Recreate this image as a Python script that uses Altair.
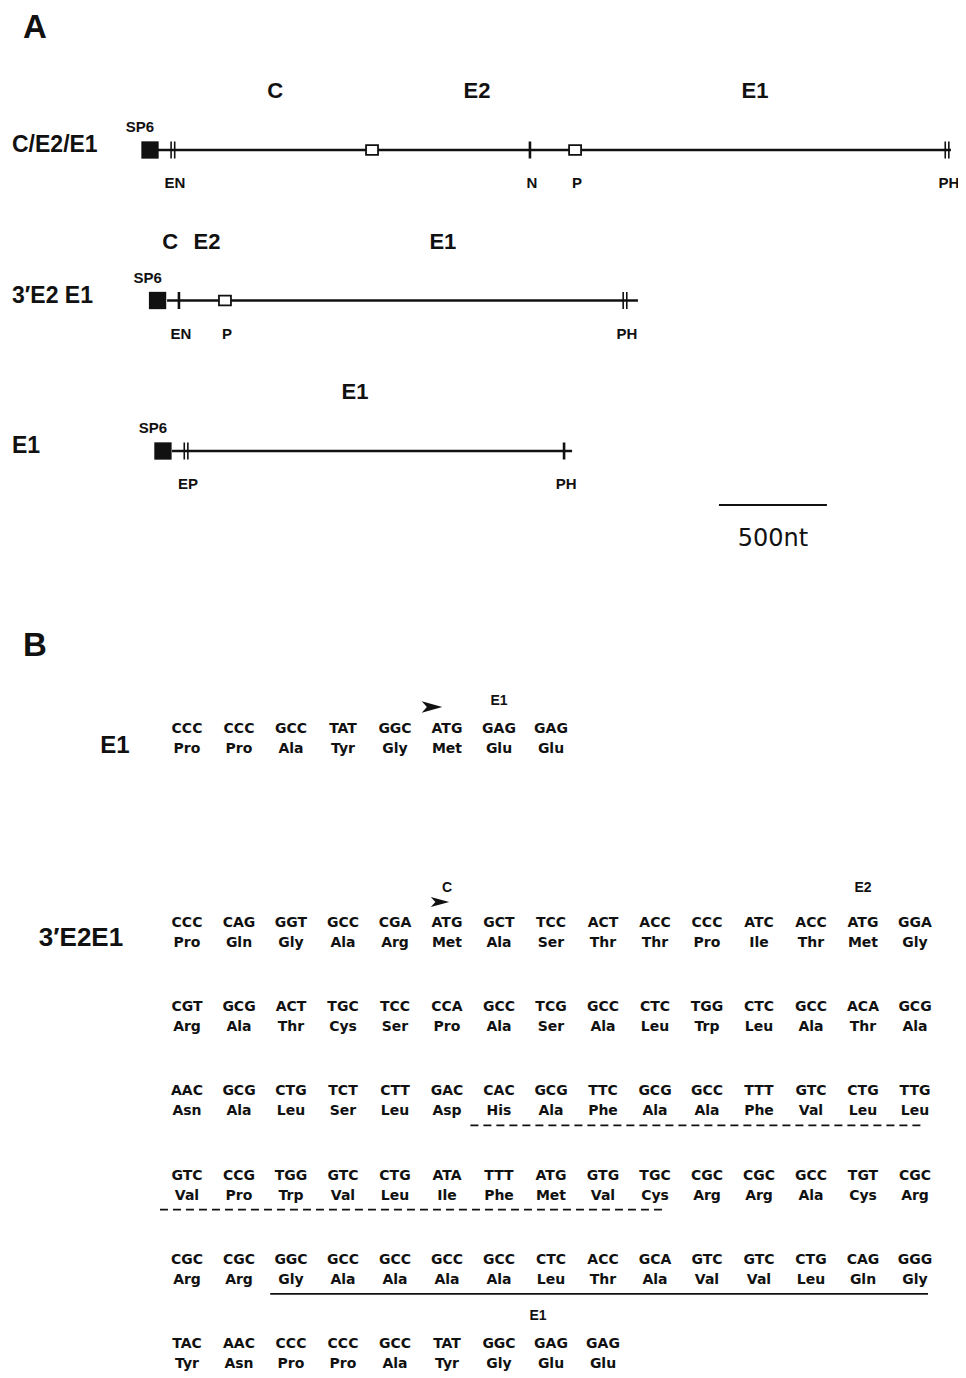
import altair as alt
import pandas as pd

# ---------------- Panel A : cDNA constructs (positions in nucleotides) ----------------
CONSTRUCTS = ["C/E2/E1", "3′E2 E1", "E1"]
SP6_NT = [0, 35, 60]
INSERT_START_NT = [37, 79, 102]
INSERT_END_NT = [3708, 2259, 1954]

SITE_TRACK = [0, 0, 0, 0, 0, 1, 1, 1, 2, 2]
SITE_NT = [106, 1028, 1759, 1968, 3690, 134, 347, 2199, 167, 1917]
SITE_KIND = ["double", "box", "single", "box", "double", "single", "box", "double", "double", "single"]
SITE_LABEL = ["EN", "", "N", "P", "PH", "EN", "P", "PH", "EP", "PH"]

GENE_TRACK = [0, 0, 0, 1, 1, 1, 2]
GENE_NAME = ["C", "E2", "E1", "C", "E2", "E1", "E1"]
GENE_NT = [579, 1514, 2801, 93, 264, 1356, 949]

SCALE_BAR_NT = 500
SCALE_BAR_START_NT = 2634

# ---------------- Panel B : sequences ----------------
E1_CODONS = ["CCC", "CCC", "GCC", "TAT", "GGC", "ATG", "GAG", "GAG"]
E1_AA = ["Pro", "Pro", "Ala", "Tyr", "Gly", "Met", "Glu", "Glu"]

LONG_CODONS = [
    ["CCC", "CAG", "GGT", "GCC", "CGA", "ATG", "GCT", "TCC", "ACT", "ACC", "CCC", "ATC", "ACC", "ATG", "GGA"],
    ["CGT", "GCG", "ACT", "TGC", "TCC", "CCA", "GCC", "TCG", "GCC", "CTC", "TGG", "CTC", "GCC", "ACA", "GCG"],
    ["AAC", "GCG", "CTG", "TCT", "CTT", "GAC", "CAC", "GCG", "TTC", "GCG", "GCC", "TTT", "GTC", "CTG", "TTG"],
    ["GTC", "CCG", "TGG", "GTC", "CTG", "ATA", "TTT", "ATG", "GTG", "TGC", "CGC", "CGC", "GCC", "TGT", "CGC"],
    ["CGC", "CGC", "GGC", "GCC", "GCC", "GCC", "GCC", "CTC", "ACC", "GCA", "GTC", "GTC", "CTG", "CAG", "GGG"],
    ["TAC", "AAC", "CCC", "CCC", "GCC", "TAT", "GGC", "GAG", "GAG"],
]
LONG_AA = [
    ["Pro", "Gln", "Gly", "Ala", "Arg", "Met", "Ala", "Ser", "Thr", "Thr", "Pro", "Ile", "Thr", "Met", "Gly"],
    ["Arg", "Ala", "Thr", "Cys", "Ser", "Pro", "Ala", "Ser", "Ala", "Leu", "Trp", "Leu", "Ala", "Thr", "Ala"],
    ["Asn", "Ala", "Leu", "Ser", "Leu", "Asp", "His", "Ala", "Phe", "Ala", "Ala", "Phe", "Val", "Leu", "Leu"],
    ["Val", "Pro", "Trp", "Val", "Leu", "Ile", "Phe", "Met", "Val", "Cys", "Arg", "Arg", "Ala", "Cys", "Arg"],
    ["Arg", "Arg", "Gly", "Ala", "Ala", "Ala", "Ala", "Leu", "Thr", "Ala", "Val", "Val", "Leu", "Gln", "Gly"],
    ["Tyr", "Asn", "Pro", "Pro", "Ala", "Tyr", "Gly", "Glu", "Glu"],
]

E1_START_LABEL = ["E1"]
E1_START_COL = [6]
E1_ARROW_COL = [5]

LONG_START_LABEL = ["C", "E2"]
LONG_START_COL = [5, 13]
LONG_ARROW_COL = [5]

DASH_ROW = [2, 3]
DASH_FROM = [5.45, -0.52]
DASH_TO = [14.2, 9.15]
SOLID_ROW = [4]
SOLID_FROM = [1.6]
SOLID_TO = [14.25]
SOLID_LABEL = ["E1"]
SOLID_LABEL_COL = [6.75]

PANEL_LETTERS = ["A", "B"]

# ---------------- tables ----------------
tracks = pd.DataFrame({"construct": CONSTRUCTS, "track": list(range(len(CONSTRUCTS))),
                       "sp6": SP6_NT, "start": INSERT_START_NT, "end": INSERT_END_NT})
sites = pd.DataFrame({"track": SITE_TRACK, "nt": SITE_NT, "kind": SITE_KIND, "label": SITE_LABEL})
genes = pd.DataFrame({"track": GENE_TRACK, "name": GENE_NAME, "nt": GENE_NT})
scalebar = pd.DataFrame({"start": [SCALE_BAR_START_NT], "end": [SCALE_BAR_START_NT + SCALE_BAR_NT],
                         "mid": [SCALE_BAR_START_NT + SCALE_BAR_NT / 2], "label": [f"{SCALE_BAR_NT}nt"]})

e1seq = pd.DataFrame({"col": list(range(len(E1_CODONS))), "row": 0, "codon": E1_CODONS, "aa": E1_AA})
long_rows = []
for r, (cods, aas) in enumerate(zip(LONG_CODONS, LONG_AA)):
    for c, (cd, aa) in enumerate(zip(cods, aas)):
        long_rows.append({"col": c, "row": r, "codon": cd, "aa": aa})
longseq = pd.DataFrame(long_rows)

e1marks = pd.DataFrame({"col": E1_START_COL, "row": 0, "label": E1_START_LABEL})
e1arrow = pd.DataFrame({"col": E1_ARROW_COL, "row": 0})
longmarks = pd.DataFrame({"col": LONG_START_COL, "row": 0, "label": LONG_START_LABEL})
longarrow = pd.DataFrame({"col": LONG_ARROW_COL, "row": 0})
dashes = pd.DataFrame({"row": DASH_ROW, "from": DASH_FROM, "to": DASH_TO})
solid = pd.DataFrame({"row": SOLID_ROW, "from": SOLID_FROM, "to": SOLID_TO})
solid_lab = pd.DataFrame({"row": SOLID_ROW, "col": SOLID_LABEL_COL, "label": SOLID_LABEL})

# ---------------- scales ----------------
W, H = 950, 1366
PX_PER_NT = 108 / 500
MAP_X = alt.Scale(domain=[0, 500], range=[142, 142 + 500 * PX_PER_NT], nice=False, zero=False)
MAP_Y = alt.Scale(domain=[0, 2], range=[142, 443], nice=False, zero=False)
SEQ_X = alt.Scale(domain=[0, 14], range=[179, 179 + 14 * 52], nice=False, zero=False)
E1SEQ_Y = alt.Scale(domain=[0, 1], range=[721, 805], nice=False, zero=False)
LONG_Y = alt.Scale(domain=[0, 5], range=[915, 1336], nice=False, zero=False)

HELV = "Liberation Sans"
SEQF = "DejaVu Sans"
INK = "#111111"
SEQ_SIZE = 14


def mx(f):
    return alt.X(f"{f}:Q", scale=MAP_X, axis=None)


def my(f="track"):
    return alt.Y(f"{f}:Q", scale=MAP_Y, axis=None)


def sx(f="col"):
    return alt.X(f"{f}:Q", scale=SEQ_X, axis=None)


def txt(size, font=HELV, weight="bold", **kw):
    return dict(font=font, fontSize=size, fontWeight=weight, color=INK,
                align=kw.pop("align", "center"), baseline=kw.pop("baseline", "middle"), **kw)


layers = []

# maps
layers.append(alt.Chart(tracks).mark_rule(color=INK, strokeWidth=2.6).encode(
    x=mx("start"), x2="end:Q", y=my()))
layers.append(alt.Chart(tracks).mark_square(size=300, color=INK, opacity=1, filled=True).encode(
    x=mx("sp6"), y=my()))
layers.append(alt.Chart(tracks).mark_text(text="SP6", dx=-10, dy=-23, **txt(15)).encode(
    x=mx("sp6"), y=my()))
layers.append(alt.Chart(tracks).mark_text(**txt(23, align="left", dy=-5)).encode(
    x=alt.value(4), y=my(), text="construct:N"))
layers.append(alt.Chart(sites).transform_filter("datum.kind == 'single'").mark_tick(
    orient="vertical", size=17, thickness=2.6, color=INK, opacity=1).encode(x=mx("nt"), y=my()))
for off in (-1.8, 1.8):
    layers.append(alt.Chart(sites).transform_filter("datum.kind == 'double'").mark_tick(
        orient="vertical", size=17, thickness=1.6, color=INK, opacity=1, xOffset=off).encode(
        x=mx("nt"), y=my()))
layers.append(alt.Chart(sites).transform_filter("datum.kind == 'box'").mark_point(
    shape="M -1 -0.8 L 1 -0.8 L 1 0.8 L -1 0.8 Z", size=144, filled=True, fill="white",
    stroke=INK, strokeWidth=1.8, opacity=1).encode(x=mx("nt"), y=my()))
layers.append(alt.Chart(sites).mark_text(dx=2, dy=33, **txt(15)).encode(
    x=mx("nt"), y=my(), text="label:N"))
layers.append(alt.Chart(genes).mark_text(dy=-59, **txt(22)).encode(
    x=mx("nt"), y=my(), text="name:N"))
layers.append(alt.Chart(scalebar).mark_rule(color=INK, strokeWidth=2).encode(
    x=mx("start"), x2="end:Q", y=alt.value(497)))
layers.append(alt.Chart(scalebar).mark_text(**txt(24, font=SEQF, weight="normal")).encode(
    x=mx("mid"), y=alt.value(531), text="label:N"))

# panel letters
for lab, py in zip(PANEL_LETTERS, [30, 648]):
    layers.append(alt.Chart(pd.DataFrame({"label": [lab]})).mark_text(
        **txt(33, baseline="alphabetic")).encode(x=alt.value(27), y=alt.value(py), text="label:N"))

# sequence E1
E1Y = alt.Y("row:Q", scale=E1SEQ_Y, axis=None)
layers.append(alt.Chart(e1seq).mark_text(**txt(SEQ_SIZE, font=SEQF)).encode(
    x=sx(), y=E1Y, text="codon:N"))
layers.append(alt.Chart(e1seq).mark_text(dy=20, **txt(SEQ_SIZE, font=SEQF)).encode(
    x=sx(), y=E1Y, text="aa:N"))
layers.append(alt.Chart(e1marks).mark_text(dy=-28, **txt(14)).encode(
    x=sx(), y=E1Y, text="label:N"))
layers.append(alt.Chart(e1arrow).mark_point(
    shape="M -1 -0.55 L 1 0 L -1 0.55 L -0.5 0 Z", size=420, filled=True, color=INK, opacity=1,
    xOffset=-15, yOffset=-22).encode(x=sx(), y=E1Y))
layers.append(alt.Chart(pd.DataFrame({"row": [0], "label": ["E1"]})).mark_text(dy=17, **txt(24)).encode(
    x=alt.value(107), y=E1Y, text="label:N"))

# sequence 3'E2E1
LY = alt.Y("row:Q", scale=LONG_Y, axis=None)
layers.append(alt.Chart(longseq).mark_text(**txt(SEQ_SIZE, font=SEQF)).encode(
    x=sx(), y=LY, text="codon:N"))
layers.append(alt.Chart(longseq).mark_text(dy=20, **txt(SEQ_SIZE, font=SEQF)).encode(
    x=sx(), y=LY, text="aa:N"))
layers.append(alt.Chart(longmarks).mark_text(dy=-35, **txt(14)).encode(
    x=sx(), y=LY, text="label:N"))
layers.append(alt.Chart(longarrow).mark_point(
    shape="M -1 -0.55 L 1 0 L -1 0.55 L -0.5 0 Z", size=340, filled=True, color=INK, opacity=1,
    xOffset=-7, yOffset=-21).encode(x=sx(), y=LY))
layers.append(alt.Chart(pd.DataFrame({"row": [0], "label": ["3′E2E1"]})).mark_text(dy=15, **txt(26)).encode(
    x=alt.value(73), y=LY, text="label:N"))
layers.append(alt.Chart(dashes).mark_rule(color=INK, strokeWidth=1.6, strokeDash=[8, 5], yOffset=34).encode(
    x=sx("from"), x2="to:Q", y=LY))
layers.append(alt.Chart(solid).mark_rule(color=INK, strokeWidth=1.8, yOffset=34).encode(
    x=sx("from"), x2="to:Q", y=LY))
layers.append(alt.Chart(solid_lab).mark_text(dy=56, **txt(14)).encode(
    x=sx(), y=LY, text="label:N"))

chart = alt.layer(*layers).resolve_scale(x="independent", y="independent").properties(
    width=W, height=H, padding=0, autosize=alt.AutoSizeParams(type="none"),
    background="white",
).configure_view(stroke=None)

chart.save("out.html", embed_options={"renderer": "svg", "actions": False})
